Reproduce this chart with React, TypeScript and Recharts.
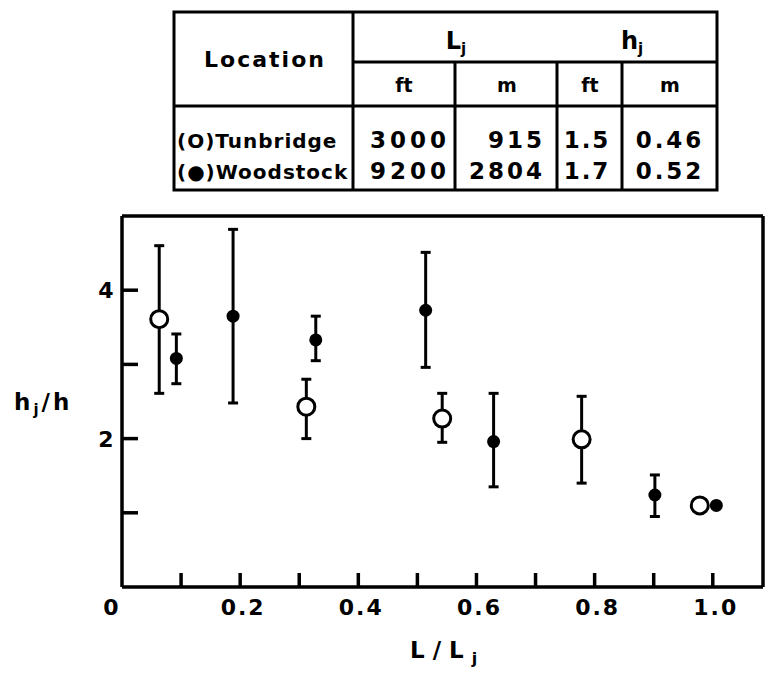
import { ScatterChart, Scatter, XAxis, YAxis, ErrorBar } from 'recharts'

const xTicks = [0, 0.1, 0.2, 0.3, 0.4, 0.5, 0.6, 0.7, 0.8, 0.9, 1.0]
const xLabels = ['0', '', '0.2', '', '0.4', '', '0.6', '', '0.8', '', '1.0']
const yTicks = [1, 2, 3, 4]
const yLabels = ['', '2', '', '4']

// Tunbridge (open circles)
const tunX = [0.063, 0.312, 0.542, 0.778, 0.978]
const tunY = [3.61, 2.43, 2.27, 1.99, 1.1]
const tunLow = [2.61, 2.0, 1.95, 1.4, null]
const tunHigh = [4.6, 2.8, 2.61, 2.57, null]

// Woodstock (filled circles)
const woodX = [0.092, 0.188, 0.328, 0.514, 0.629, 0.902, 1.006]
const woodY = [3.08, 3.65, 3.33, 3.73, 1.96, 1.24, 1.1]
const woodLow = [2.74, 2.48, 3.05, 2.96, 1.35, 0.95, null]
const woodHigh = [3.41, 4.82, 3.65, 4.51, 2.61, 1.51, null]

// table in the top
const locations = ['(O)Tunbridge', '(●)Woodstock']
const ljFt = ['3000', '9200']
const ljM = ['915', '2804']
const hjFt = ['1.5', '1.7']
const hjM = ['0.46', '0.52']

const build = (xs: number[], ys: number[], lo: (number | null)[], hi: (number | null)[]) =>
  xs.map((x, i) => ({
    x,
    y: ys[i],
    err: lo[i] == null || hi[i] == null ? undefined : [ys[i] - (lo[i] as number), (hi[i] as number) - ys[i]],
  }))

const tunData = build(tunX, tunY, tunLow, tunHigh)
const woodData = build(woodX, woodY, woodLow, woodHigh)

const FONT = '"DejaVu Sans", sans-serif'
const INK = '#000'
const TICK = 14
const X_MAX = 1.085

const BottomTick = (props: any) => {
  const { x, y, payload } = props
  const i = xTicks.indexOf(payload.value)
  const label = xLabels[i] ?? ''
  return (
    <g>
      {payload.value !== 0 && <line x1={x} y1={y} x2={x} y2={y - TICK} stroke={INK} strokeWidth={3.5} />}
      {label && (
        <text
          x={x + (payload.value === 0 ? -10 : 3)}
          y={y + 28}
          textAnchor="middle"
          fontFamily={FONT}
          fontWeight="bold"
          fontSize={22}
          letterSpacing={2}
          fill={INK}
        >
          {label}
        </text>
      )}
    </g>
  )
}

const TopTick = (props: any) => {
  const { x, y, payload } = props
  if (payload.value === 0) return <g />
  return <line x1={x} y1={y} x2={x} y2={y + TICK} stroke={INK} strokeWidth={3.5} />
}

const LeftTick = (props: any) => {
  const { x, y, payload } = props
  const label = yLabels[yTicks.indexOf(payload.value)] ?? ''
  return (
    <g>
      <line x1={x} y1={y} x2={x + TICK + 2} y2={y} stroke={INK} strokeWidth={3.5} />
      {label && (
        <text x={x - 16} y={y + 8} textAnchor="middle" fontFamily={FONT} fontWeight="bold" fontSize={22} fill={INK}>
          {label}
        </text>
      )}
    </g>
  )
}

const RightTick = (props: any) => {
  const { x, y } = props
  return <line x1={x} y1={y} x2={x - TICK - 2} y2={y} stroke={INK} strokeWidth={3.5} />
}

const OpenDot = (props: any) => (
  <circle cx={props.cx} cy={props.cy} r={8.5} fill="#fff" stroke={INK} strokeWidth={3} />
)
const FilledDot = (props: any) => <circle cx={props.cx} cy={props.cy} r={6.5} fill={INK} />

const cell = { fontFamily: FONT, fontWeight: 'bold' as const, fontSize: 22, fill: INK }

function Table() {
  const rowY = [148, 179]
  return (
    <g stroke={INK} strokeWidth={3}>
      <rect x={174} y={12} width={543} height={178} fill="none" />
      <line x1={353} y1={12} x2={353} y2={190} />
      <line x1={353} y1={62} x2={717} y2={62} />
      <line x1={174} y1={106} x2={717} y2={106} />
      <line x1={455} y1={62} x2={455} y2={190} />
      <line x1={557} y1={62} x2={557} y2={190} />
      <line x1={622} y1={62} x2={622} y2={190} />
      <g stroke="none">
        <text x={265} y={67} textAnchor="middle" {...cell} letterSpacing={2}>Location</text>
        <text x={456} y={49} textAnchor="middle" {...cell} fontSize={24}>
          L<tspan dy={5} fontSize={15}>j</tspan>
        </text>
        <text x={632} y={49} textAnchor="middle" {...cell} fontSize={24}>
          h<tspan dy={5} fontSize={15}>j</tspan>
        </text>
        <text x={404} y={92} textAnchor="middle" {...cell} fontSize={19}>ft</text>
        <text x={507} y={92} textAnchor="middle" {...cell} fontSize={19}>m</text>
        <text x={590} y={92} textAnchor="middle" {...cell} fontSize={19}>ft</text>
        <text x={670} y={92} textAnchor="middle" {...cell} fontSize={19}>m</text>
        {locations.map((loc, i) => (
          <g key={loc}>
            <text x={177} y={rowY[i]} {...cell} fontSize={20} letterSpacing={1}>{loc}</text>
            <text x={450} y={rowY[i]} textAnchor="end" {...cell} fontSize={23} letterSpacing={4}>{ljFt[i]}</text>
            <text x={545} y={rowY[i]} textAnchor="end" {...cell} fontSize={23} letterSpacing={3}>{ljM[i]}</text>
            <text x={587} y={rowY[i]} textAnchor="middle" {...cell} fontSize={23} letterSpacing={2}>{hjFt[i]}</text>
            <text x={670} y={rowY[i]} textAnchor="middle" {...cell} fontSize={23} letterSpacing={3}>{hjM[i]}</text>
          </g>
        ))}
      </g>
    </g>
  )
}

export default function App() {
  return (
    <div style={{ position: 'absolute', left: 0, top: 0, width: 765, height: 683, background: '#fff' }}>
      <ScatterChart width={765} height={683} margin={{ top: 0, right: 0, bottom: 0, left: 0 }}>
        <XAxis
          dataKey="x"
          type="number"
          domain={[0, X_MAX]}
          ticks={xTicks}
          height={96}
          tickSize={0}
          tickMargin={0}
          tickLine={false}
          axisLine={{ stroke: INK, strokeWidth: 3.5 }}
          tick={<BottomTick />}
          interval={0}
        />
        <XAxis
          xAxisId="top"
          orientation="top"
          dataKey="x"
          type="number"
          domain={[0, X_MAX]}
          ticks={xTicks}
          height={216}
          tickSize={0}
          tickMargin={0}
          tickLine={false}
          axisLine={{ stroke: INK, strokeWidth: 3.5 }}
          tick={<TopTick />}
          interval={0}
        />
        <YAxis
          dataKey="y"
          type="number"
          domain={[0, 5]}
          ticks={yTicks}
          width={122}
          tickSize={0}
          tickMargin={0}
          tickLine={false}
          axisLine={{ stroke: INK, strokeWidth: 3.5 }}
          tick={<LeftTick />}
          interval={0}
        />
        <YAxis
          yAxisId="right"
          orientation="right"
          type="number"
          domain={[0, 5]}
          ticks={yTicks}
          width={2}
          tickSize={0}
          tickMargin={0}
          tickLine={false}
          axisLine={{ stroke: INK, strokeWidth: 3.5 }}
          tick={<RightTick />}
          interval={0}
        />
        <Scatter data={tunData} shape={<OpenDot />} isAnimationActive={false}>
          <ErrorBar dataKey="err" direction="y" width={5} stroke={INK} strokeWidth={3} />
        </Scatter>
        <Scatter data={woodData} shape={<FilledDot />} isAnimationActive={false}>
          <ErrorBar dataKey="err" direction="y" width={5} stroke={INK} strokeWidth={3} />
        </Scatter>
      </ScatterChart>
      <svg width={765} height={683} style={{ position: 'absolute', left: 0, top: 0, pointerEvents: 'none' }}>
        <Table />
        <text x={14} y={410} fontFamily={FONT} fontWeight="bold" fontSize={23} fill={INK} letterSpacing={3}>
          h<tspan dy={5} fontSize={15}>j</tspan>
          <tspan dy={-5}>/h</tspan>
        </text>
        <text x={410} y={658} fontFamily={FONT} fontWeight="bold" fontSize={23} fill={INK} letterSpacing={8}>
          L/L<tspan dy={6} fontSize={16}>j</tspan>
        </text>
      </svg>
    </div>
  )
}
